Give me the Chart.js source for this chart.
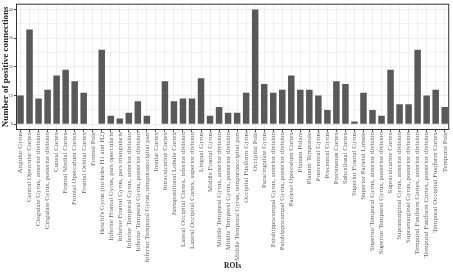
<!DOCTYPE html>
<html>
<head>
<meta charset="utf-8">
<script src="https://cdn.jsdelivr.net/npm/chart.js@4"></script>
<style>
  html, body { margin: 0; padding: 0; background: #fff; }
  canvas { display: block; }
</style>
</head>
<body>
<canvas id="chart" width="453" height="272"></canvas>
<script>
// DATA
const rois = [
  "Angular Gyrus",
  "Central Opercular Cortex",
  "Cingulate Gyrus, anterior division",
  "Cingulate Gyrus, posterior division",
  "Cuneal Cortex",
  "Frontal Medial Cortex",
  "Frontal Operculum Cortex",
  "Frontal Orbital Cortex",
  "Frontal Pole",
  "Heschl's Gyrus (includes H1 and H2)",
  "Inferior Frontal Gyrus, pars opercularis",
  "Inferior Frontal Gyrus, pars triangularis",
  "Inferior Temporal Gyrus, anterior division",
  "Inferior Temporal Gyrus, posterior division",
  "Inferior Temporal Gyrus, temporooccipital part",
  "Insular Cortex",
  "Intracalcarine Cortex",
  "Juxtapositional Lobule Cortex",
  "Lateral Occipital Cortex, inferior division",
  "Lateral Occipital Cortex, superior division",
  "Lingual Gyrus",
  "Middle Frontal Gyrus",
  "Middle Temporal Gyrus, anterior division",
  "Middle Temporal Gyrus, posterior division",
  "Middle Temporal Gyrus, temporooccipital part",
  "Occipital Fusiform Gyrus",
  "Occipital Pole",
  "Paracingulate Gyrus",
  "Parahippocampal Gyrus, anterior division",
  "Parahippocampal Gyrus, posterior division",
  "Parietal Operculum Cortex",
  "Planum Polare",
  "Planum Temporale",
  "Postcentral Gyrus",
  "Precentral Gyrus",
  "Precuneous Cortex",
  "Subcallosal Cortex",
  "Superior Frontal Gyrus",
  "Superior Parietal Lobule",
  "Superior Temporal Gyrus, anterior division",
  "Superior Temporal Gyrus, posterior division",
  "Supracalcarine Cortex",
  "Supramarginal Gyrus, anterior division",
  "Supramarginal Gyrus, posterior division",
  "Temporal Fusiform Cortex, anterior division",
  "Temporal Fusiform Cortex, posterior division",
  "Temporal Occipital Fusiform Cortex",
  "Temporal Pole"
];

const connections = [
  10, 33, 9, 12, 17, 19, 15, 11, 0, 26,
  3, 2, 4, 8, 3, 0, 15, 8, 9, 9,
  16, 3, 6, 4, 4, 11, 40, 14, 11, 12,
  17, 12, 12, 10, 5, 15, 14, 1, 11, 5,
  3, 19, 7, 7, 26, 10, 12, 6
];

const yTicks = [0, 10, 20, 30, 40];
const yMin = -2;
const yMax = 42;

const serif = "'Liberation Serif', 'DejaVu Serif', serif";

// panel border like theme_bw
const panelBorder = {
  id: "panelBorder",
  afterDraw(chart) {
    const a = chart.chartArea;
    const ctx = chart.ctx;
    ctx.save();
    ctx.strokeStyle = "#333333";
    ctx.lineWidth = 1;
    ctx.strokeRect(a.left + 0.5, a.top + 0.5, a.right - a.left - 1, a.bottom - a.top - 1);
    ctx.restore();
  }
};

new Chart(document.getElementById("chart"), {
  type: "bar",
  data: {
    labels: rois,
    datasets: [{
      data: connections,
      backgroundColor: "#595959",
      borderWidth: 0,
      categoryPercentage: 1,
      barPercentage: 0.72
    }]
  },
  options: {
    responsive: false,
    animation: false,
    layout: { padding: { top: 0, right: 1, left: 0, bottom: 0 } },
    plugins: {
      legend: { display: false },
      tooltip: { enabled: false }
    },
    scales: {
      x: {
        grid: {
          offset: false,
          color: "#ebebeb",
          lineWidth: 0.8,
          tickColor: "#333333",
          tickLength: 2
        },
        border: { display: false },
        ticks: {
          autoSkip: false,
          minRotation: 90,
          maxRotation: 90,
          padding: 0,
          color: "#666666",
          font: { family: serif, size: 6.9 }
        },
        title: {
          display: true,
          text: "ROIs",
          color: "#222222",
          font: { family: serif, size: 7.5, weight: "bold" },
          padding: { top: 0, bottom: 1 }
        },
        afterFit(scale) { scale.height = 142; }
      },
      y: {
        min: yMin,
        max: yMax,
        afterBuildTicks(scale) {
          const t = [];
          yTicks.forEach((v, i) => {
            t.push({ value: v });
            if (i < yTicks.length - 1) t.push({ value: (v + yTicks[i + 1]) / 2 });
          });
          scale.ticks = t;
        },
        grid: {
          color: "#ebebeb",
          lineWidth: ctx => (yTicks.includes(ctx.tick && ctx.tick.value) ? 0.9 : 0.6),
          tickColor: ctx => (yTicks.includes(ctx.tick && ctx.tick.value) ? "#333333" : "rgba(0,0,0,0)"),
          tickLength: 2
        },
        border: { display: false },
        ticks: {
          padding: 1,
          color: "#555555",
          font: { family: serif, size: 4.5 },
          callback: v => (yTicks.includes(v) ? v : "")
        },
        title: {
          display: true,
          text: "Number of positive connections",
          color: "#222222",
          font: { family: serif, size: 9, weight: "bold" },
          padding: { top: 0, bottom: 0 }
        },
        afterFit(scale) { scale.width = 16; }
      }
    }
  },
  plugins: [panelBorder]
});
</script>
</body>
</html>
